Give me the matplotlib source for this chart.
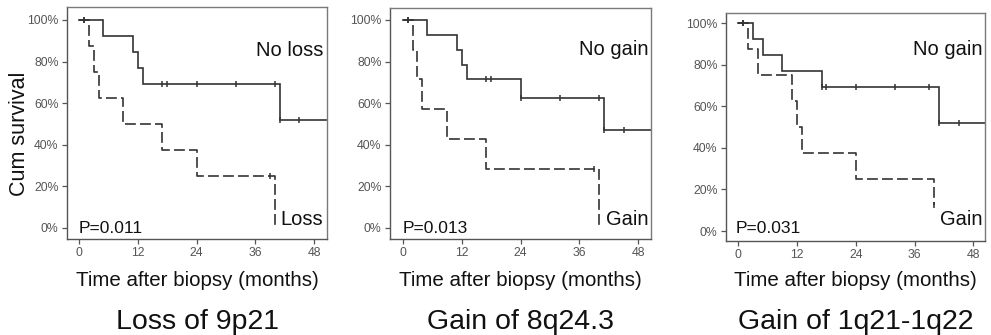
import matplotlib
matplotlib.use("Agg")
import matplotlib.pyplot as plt
import numpy as np

plt.rcParams['font.family'] = ['Liberation Sans', 'DejaVu Sans']

W, H = 991, 335

# ---- data (months, survival %) ----
titles = ["Loss of 9p21", "Gain of 8q24.3", "Gain of 1q21-1q22"]
group_labels = [("No loss", "Loss"), ("No gain", "Gain"), ("No gain", "Gain")]
p_values = ["P=0.011", "P=0.013", "P=0.031"]

# panel 1
p1_a_drop = [5, 11, 12, 13, 41]
p1_a_surv = [92.3, 84.6, 76.9, 69.2, 51.9]
p1_a_cens = [1, 17, 18, 24, 32, 40, 41, 45]
p1_b_drop = [2, 3, 4, 9, 17, 24, 40]
p1_b_surv = [87.5, 75.0, 62.5, 50.0, 37.5, 25.0, 0.0]
p1_b_cens = [1, 39]

# panel 2
p2_a_drop = [5, 11, 12, 13, 24, 41]
p2_a_surv = [92.9, 85.7, 78.6, 71.4, 62.5, 46.9]
p2_a_cens = [1, 17, 18, 24, 32, 40, 41, 45]
p2_b_drop = [2, 3, 4, 9, 17, 40]
p2_b_surv = [85.7, 71.4, 57.1, 42.9, 28.6, 0.0]
p2_b_cens = [1, 39]

# panel 3
p3_a_drop = [3, 5, 9, 17, 41]
p3_a_surv = [92.3, 84.6, 76.9, 69.2, 51.9]
p3_a_cens = [1, 17, 18, 24, 32, 39, 41, 45]
p3_b_drop = [2, 4, 11, 12, 13, 24, 40]
p3_b_surv = [87.5, 75.0, 62.5, 50.0, 37.5, 25.0, 12.5]
p3_b_cens = [1, 40]

panels = [
    ((p1_a_drop, p1_a_surv, p1_a_cens, None), (p1_b_drop, p1_b_surv, p1_b_cens, 40)),
    ((p2_a_drop, p2_a_surv, p2_a_cens, None), (p2_b_drop, p2_b_surv, p2_b_cens, 40)),
    ((p3_a_drop, p3_a_surv, p3_a_cens, None), (p3_b_drop, p3_b_surv, p3_b_cens, 40)),
]

x_ticks = [0, 12, 24, 36, 48]
y_ticks = [0, 20, 40, 60, 80, 100]
y_ticklabels = ["0%", "20%", "40%", "60%", "80%", "100%"]

# axes boxes in pixels: left, right, top, bottom ; and y positions of 0%/100%
boxes = [(67, 327, 7, 239), (390, 651, 7.5, 239), (726, 985, 13, 241)]
y100 = [20, 20, 23]
y0 = [228, 228, 231]
x0px = [79, 402.7, 738.3]
x48px = [314, 638.3, 973.3]

label_pos = [((49.9, 82.7), (49.9, 1.4), (0.0, -2.4)),
             ((50.0, 83.0), (50.0, 1.4), (0.0, -2.4)),
             ((49.9, 84.6), (49.9, 2.9), (-0.5, -1.0))]

line_color = "#333333"
frame_color = "#7a7a7a"

fig = plt.figure(figsize=(W / 100, H / 100), dpi=100)


def km_xy(drops, survs, end):
    xs = [0.0]
    ys = [100.0]
    cur = 100.0
    for t, s in zip(drops, survs):
        xs += [t, t]
        ys += [cur, s]
        cur = s
    if end is not None:
        xs.append(end)
        ys.append(cur)
    return np.array(xs), np.array(ys)


def surv_at(drops, survs, t):
    cur = 100.0
    for d, s in zip(drops, survs):
        if d <= t:
            cur = s
    return cur


for i, ax_def in enumerate(boxes):
    l, r, t, b = ax_def
    ax = fig.add_axes([l / W, 1 - b / H, (r - l) / W, (b - t) / H])
    ppm = (x48px[i] - x0px[i]) / 48.0
    xmin = (l - x0px[i]) / ppm
    xmax = (r - x0px[i]) / ppm
    ppp = (y0[i] - y100[i]) / 100.0
    ymax = (y0[i] - t) / ppp
    ymin = (y0[i] - b) / ppp
    ax.set_xlim(xmin, xmax)
    ax.set_ylim(ymin, ymax)

    (a_drop, a_surv, a_cens, a_end), (b_drop, b_surv, b_cens, b_end) = panels[i]
    xa, ya = km_xy(a_drop, a_surv, xmax + 1)
    ax.plot(xa, ya, color=line_color, lw=1.2, solid_joinstyle='miter')
    xb, yb = km_xy(b_drop, b_surv, b_end)
    ax.plot(xb, yb, color=line_color, lw=1.2, linestyle=(0, (6.5, 2.5)))

    ca = [surv_at(a_drop, a_surv, c) for c in a_cens]
    ax.plot(a_cens, ca, linestyle='none', marker='|', ms=5, mew=1.1, color=line_color)
    cb = [surv_at(b_drop, b_surv, c) for c in b_cens]
    ax.plot(b_cens, cb, linestyle='none', marker='|', ms=5, mew=1.1, color=line_color)

    ax.set_xticks(x_ticks)
    ax.set_xticklabels([str(v) for v in x_ticks])
    ax.set_yticks(y_ticks)
    ax.set_yticklabels(y_ticklabels)
    ax.tick_params(axis='both', labelsize=8.8, colors='#555555', length=3.5,
                   width=0.9, pad=2.5)
    for s in ax.spines.values():
        s.set_color(frame_color)
        s.set_linewidth(1.0)
    ax.spines['left'].set_color('#555555')
    ax.spines['bottom'].set_color('#555555')

    (na, nb, pp) = label_pos[i]
    ax.text(na[0], na[1], group_labels[i][0], ha='right', va='baseline',
            fontsize=14.5, color='#111111')
    ax.text(nb[0], nb[1], group_labels[i][1], ha='right', va='baseline',
            fontsize=14.5, color='#111111')
    ax.text(pp[0], pp[1], p_values[i], ha='left', va='baseline',
            fontsize=12.5, color='#111111')

    cx = (l + r) / 2 / W
    fig.text(cx, 1 - 286 / H, "Time after biopsy (months)", ha='center',
             va='baseline', fontsize=14.8, color='#111111')
    fig.text(cx, 1 - 329 / H, titles[i], ha='center', va='baseline',
             fontsize=20.5, color='#111111')

fig.text(20 / W, 1 - 134 / H, "Cum survival", rotation=90, ha='center',
         va='center', fontsize=15.5, color='#111111')

fig.savefig("out.png", dpi=100)
